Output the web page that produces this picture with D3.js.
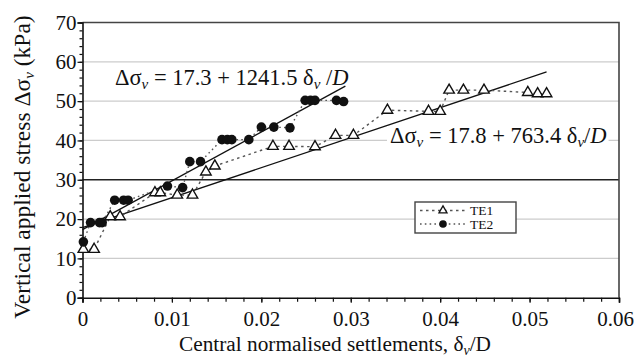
<!DOCTYPE html>
<html>
<head>
<meta charset="utf-8">
<script src="https://cdn.jsdelivr.net/npm/d3@7"></script>
<style>
  html, body { margin: 0; padding: 0; background: #fff; }
  svg { display: block; }
  text { font-family: "Liberation Serif", "Times New Roman", serif; fill: #111; }
</style>
</head>
<body>
<svg id="chart" width="634" height="358"></svg>
<script>
// Plate load test results: applied stress vs. normalised settlement
const te1Settle = [0.0001, 0.0013, 0.0031, 0.0042, 0.0081, 0.0087, 0.0106, 0.0123, 0.0138, 0.0148,
                   0.0213, 0.0231, 0.0260, 0.0283, 0.0303, 0.0341, 0.0387, 0.0400, 0.0410, 0.0426,
                   0.0449, 0.0498, 0.0509, 0.0519];
const te1Stress = [12.3, 12.3, 20.6, 20.6, 26.7, 26.7, 26.1, 26.1, 32.0, 33.5,
                   38.5, 38.5, 38.4, 41.3, 41.3, 47.7, 47.4, 47.4, 52.8, 52.8,
                   52.8, 52.2, 51.9, 51.9];
const te2Settle = [0.0001, 0.0009, 0.0019, 0.0022, 0.0036, 0.0046, 0.0051, 0.0095, 0.0112, 0.0120,
                   0.0132, 0.0156, 0.0162, 0.0167, 0.0186, 0.0200, 0.0214, 0.0232, 0.0249, 0.0255,
                   0.0260, 0.0284, 0.0292];
const te2Stress = [14.2, 19.1, 19.1, 19.1, 24.8, 24.8, 24.8, 28.4, 28.0, 34.6,
                   34.6, 40.2, 40.2, 40.2, 40.2, 43.4, 43.4, 43.2, 50.2, 50.2,
                   50.2, 50.2, 49.9];
// Linear fits: stress = intercept + slope * settlement
const fitTE1 = { intercept: 17.8, slope: 763.4, xEnd: 0.0519 };
const fitTE2 = { intercept: 17.3, slope: 1241.5, xEnd: 0.0294 };
const xTicks = [0, 0.01, 0.02, 0.03, 0.04, 0.05, 0.06];
const yTicks = [0, 10, 20, 30, 40, 50, 60, 70];
const seriesNames = ["TE1", "TE2"];

const serif = '"Liberation Serif", "Times New Roman", serif';
const svg = d3.select("#chart");
const m = { left: 82.5, right: 619, top: 22.5, bottom: 297.7 };

const x = d3.scaleLinear().domain([0, 0.06]).range([m.left, m.right]);
const y = d3.scaleLinear().domain([0, 70]).range([m.bottom, m.top]);

// Horizontal gridlines
svg.append("g").selectAll("line")
  .data(yTicks.filter(v => v > 0 && v < 70))
  .join("line")
  .attr("x1", m.left).attr("x2", m.right)
  .attr("y1", d => y(d)).attr("y2", d => y(d))
  .attr("stroke", d => d === 30 ? "#222" : "#cccccc")
  .attr("stroke-width", d => d === 30 ? 1.4 : 1.2);

// Plot frame (top/right)
svg.append("path")
  .attr("d", `M${m.left},${m.top}H${m.right}V${m.bottom}`)
  .attr("fill", "none").attr("stroke", "#444").attr("stroke-width", 1.6);

// Axes
const xMinor = d3.range(0, 0.0601, 0.002);
const gx = svg.append("g").attr("transform", `translate(0,${m.bottom})`);
gx.call(d3.axisBottom(x).tickValues(xMinor).tickSize(4).tickFormat(""));
gx.call(g => g.selectAll(".domain").remove());
const gxMajor = svg.append("g").attr("transform", `translate(0,${m.bottom})`)
  .call(d3.axisBottom(x).tickValues(xTicks).tickSize(5).tickPadding(8)
    .tickFormat(d => d === 0 ? "0" : d3.format(".2f")(d)));
gxMajor.attr("font-family", serif).attr("font-size", 21);
gxMajor.select(".domain").attr("stroke", "#111").attr("stroke-width", 1.6);
gxMajor.selectAll("text").attr("fill", "#111");
// keep the last label inside the page edge
gxMajor.selectAll(".tick").filter(d => d === 0.06).select("text").attr("dx", -4);

const yMinor = d3.range(0, 70.1, 2);
const gy = svg.append("g").attr("transform", `translate(${m.left},0)`);
gy.call(d3.axisLeft(y).tickValues(yMinor).tickSize(3).tickFormat(""));
gy.call(g => g.selectAll(".domain").remove());
const gyMajor = svg.append("g").attr("transform", `translate(${m.left},0)`)
  .call(d3.axisLeft(y).tickValues(yTicks).tickSize(5).tickPadding(1));
gyMajor.attr("font-family", serif).attr("font-size", 21);
gyMajor.select(".domain").attr("stroke", "#111").attr("stroke-width", 1.6);
gyMajor.selectAll("text").attr("fill", "#111");
svg.selectAll(".tick line").attr("stroke", "#111").attr("stroke-width", 1.2);

// Regression lines
function fitLine(f) {
  return [[0, f.intercept], [f.xEnd, f.intercept + f.slope * f.xEnd]];
}
const line = d3.line().x(d => x(d[0])).y(d => y(d[1]));
[fitTE1, fitTE2].forEach(f => {
  svg.append("path").attr("d", line(fitLine(f)))
    .attr("fill", "none").attr("stroke", "#111").attr("stroke-width", 1.3);
});

// Measured series
const te1 = te1Settle.map((v, i) => [v, te1Stress[i]]);
const te2 = te2Settle.map((v, i) => [v, te2Stress[i]]);
const styles = {
  TE1: { dash: "2.5,3.5" },
  TE2: { dash: "1.6,3.2" }
};

svg.append("path").attr("d", line(te1)).attr("fill", "none")
  .attr("stroke", "#555").attr("stroke-width", 1.4).attr("stroke-dasharray", styles.TE1.dash);
svg.append("path").attr("d", line(te2)).attr("fill", "none")
  .attr("stroke", "#555").attr("stroke-width", 1.4).attr("stroke-dasharray", styles.TE2.dash);

const tri = d3.symbol().type(d3.symbolTriangle).size(48);
svg.append("g").selectAll("path").data(te1).join("path")
  .attr("d", tri)
  .attr("transform", d => `translate(${x(d[0])},${y(d[1])})`)
  .attr("fill", "#fff").attr("stroke", "#111").attr("stroke-width", 1.4);

svg.append("g").selectAll("circle").data(te2).join("circle")
  .attr("cx", d => x(d[0])).attr("cy", d => y(d[1])).attr("r", 4.8)
  .attr("fill", "#111");

// Equation labels
function equation(xp, yp, a, b, bg) {
  const g = svg.append("g");
  const t = g.append("text").attr("x", xp).attr("y", yp).attr("font-size", 22.5);
  t.append("tspan").text("Δσ");
  t.append("tspan").text("v").attr("font-style", "italic").attr("font-size", 15).attr("dy", 4);
  t.append("tspan").text(` = ${a} + ${b} δ`).attr("dy", -4);
  t.append("tspan").text("v").attr("font-style", "italic").attr("font-size", 15).attr("dy", 4);
  t.append("tspan").text(bg ? "/" : " /").attr("dy", -4);
  t.append("tspan").text("D").attr("font-style", "italic");
  if (bg) {
    const bb = t.node().getBBox();
    g.insert("rect", "text").attr("x", bb.x - 3).attr("y", bb.y + 3)
      .attr("width", bb.width + 5).attr("height", bb.height - 3).attr("fill", "#fff");
  }
}
equation(115, 85, "17.3", "1241.5", false);
equation(390, 143, "17.8", " 763.4", true);

// Legend
const lg = svg.append("g");
lg.append("rect").attr("x", 415).attr("y", 202).attr("width", 101).attr("height", 31)
  .attr("fill", "#fff").attr("stroke", "#444").attr("stroke-width", 1.4);
seriesNames.forEach((name, i) => {
  const ly = 210.5 + i * 13.5;
  lg.append("line").attr("x1", 420).attr("x2", 467).attr("y1", ly).attr("y2", ly)
    .attr("stroke", "#555").attr("stroke-width", 1.3).attr("stroke-dasharray", styles[name].dash);
  if (name === "TE1") {
    lg.append("path").attr("d", d3.symbol().type(d3.symbolTriangle).size(28))
      .attr("transform", `translate(443,${ly})`)
      .attr("fill", "#fff").attr("stroke", "#111").attr("stroke-width", 1.3);
  } else {
    lg.append("circle").attr("cx", 443).attr("cy", ly).attr("r", 3.8).attr("fill", "#111");
  }
  lg.append("text").attr("x", 470).attr("y", ly + 4.5).attr("font-size", 13.5).text(name);
});

// Axis titles
const xt = svg.append("text").attr("x", 335).attr("y", 351).attr("text-anchor", "middle")
  .attr("font-size", 21.3);
xt.append("tspan").text("Central normalised settlements, δ");
xt.append("tspan").text("v").attr("font-size", 14).attr("font-style", "italic").attr("dy", 4);
xt.append("tspan").text("/D").attr("dy", -4);

const yt = svg.append("text").attr("transform", "translate(30,167) rotate(-90)")
  .attr("text-anchor", "middle").attr("font-size", 23.5);
yt.append("tspan").text("Vertical applied stress Δσ");
yt.append("tspan").text("v").attr("font-size", 15).attr("font-style", "italic").attr("dy", 4);
yt.append("tspan").text(" (kPa)").attr("dy", -4);
</script>
</body>
</html>
